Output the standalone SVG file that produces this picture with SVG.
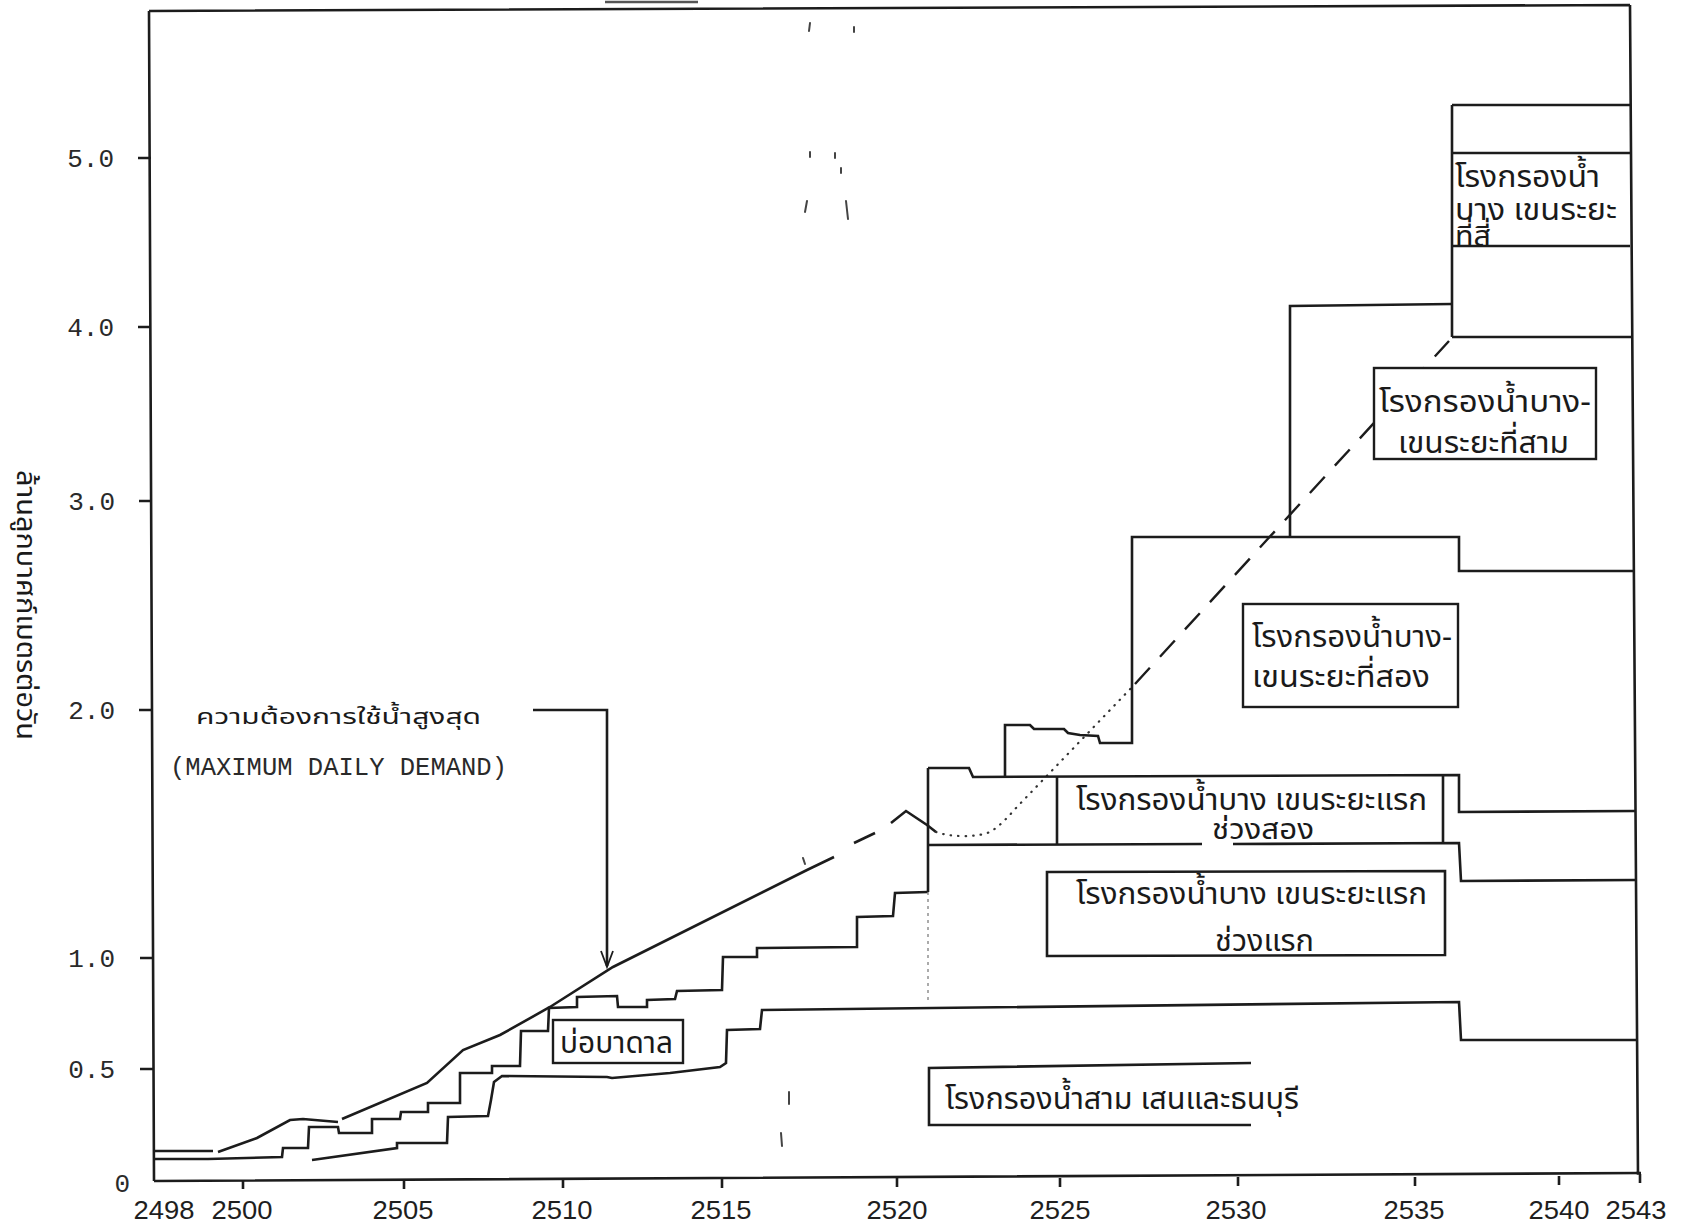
<svg xmlns="http://www.w3.org/2000/svg" width="1683" height="1227" viewBox="0 0 1683 1227">
<style>
.ln{fill:none;stroke:#1c1c1c;stroke-width:2.6;stroke-linejoin:miter}
.thin{fill:none;stroke:#1c1c1c;stroke-width:1.8}
.box{fill:#fff;stroke:#1c1c1c;stroke-width:2.4}
.dash{fill:none;stroke:#1c1c1c;stroke-width:2.4;stroke-dasharray:22 15}
.dot{fill:none;stroke:#333;stroke-width:2.2;stroke-dasharray:0.5 7;stroke-linecap:round}
.lite{fill:none;stroke:#888;stroke-width:1.4;stroke-dasharray:3 4}
.noise{fill:none;stroke:#444;stroke-width:2;stroke-linecap:round}
.th{font-family:"Noto Sans Thai","Noto Sans","DejaVu Sans",sans-serif;font-size:31px;fill:#1a1a1a}
.mono{font-family:"Liberation Mono",monospace;font-size:26px;fill:#2a2a2a}
.yr{font-family:"Liberation Sans",sans-serif;font-size:26px;fill:#1e1e1e;text-anchor:middle}
</style>
<rect width="1683" height="1227" fill="#fff"/>
<g id="frame">
<path class="ln" d="M149,11 L154,1181 M149,11 L1630,5 M1630,5 L1638,1175 M154,1181 L1641,1173"/>
<path class="ln" d="M138,158 H151 M138,327 H151 M139,501 H152 M139,710 H152 M140,958 H153 M140,1069 H153"/>
<path class="ln" d="M243,1180 v9 M404,1180 v9 M563,1179 v9 M722,1179 v9 M897,1178 v9 M1060,1178 v9 M1238,1177 v9 M1415,1177 v9 M1559,1176 v9 M1640,1174 v9"/>
<path fill="none" stroke="#555" stroke-width="2.4" d="M605,2 L698,2"/>
</g>
<g id="axis-labels">
<text class="mono" x="114" y="167" text-anchor="end">5.0</text>
<text class="mono" x="114" y="336" text-anchor="end">4.0</text>
<text class="mono" x="115" y="510" text-anchor="end">3.0</text>
<text class="mono" x="115" y="719" text-anchor="end">2.0</text>
<text class="mono" x="115" y="967" text-anchor="end">1.0</text>
<text class="mono" x="115" y="1078" text-anchor="end">0.5</text>
<text class="mono" x="130" y="1192" text-anchor="end">0</text>
<text class="yr" x="164" y="1219" textLength="61" lengthAdjust="spacingAndGlyphs">2498</text>
<text class="yr" x="242" y="1219" textLength="61" lengthAdjust="spacingAndGlyphs">2500</text>
<text class="yr" x="403" y="1219" textLength="61" lengthAdjust="spacingAndGlyphs">2505</text>
<text class="yr" x="562" y="1219" textLength="61" lengthAdjust="spacingAndGlyphs">2510</text>
<text class="yr" x="721" y="1219" textLength="61" lengthAdjust="spacingAndGlyphs">2515</text>
<text class="yr" x="897" y="1219" textLength="61" lengthAdjust="spacingAndGlyphs">2520</text>
<text class="yr" x="1060" y="1219" textLength="61" lengthAdjust="spacingAndGlyphs">2525</text>
<text class="yr" x="1236" y="1219" textLength="61" lengthAdjust="spacingAndGlyphs">2530</text>
<text class="yr" x="1414" y="1219" textLength="61" lengthAdjust="spacingAndGlyphs">2535</text>
<text class="yr" x="1559" y="1219" textLength="61" lengthAdjust="spacingAndGlyphs">2540</text>
<text class="yr" x="1636" y="1219" textLength="61" lengthAdjust="spacingAndGlyphs">2543</text>
<text class="th" style="font-size:26px" transform="translate(17,470) rotate(90)" textLength="270" lengthAdjust="spacingAndGlyphs">ล้านลูกบาศก์เมตรต่อวัน</text>
</g>
<g id="connectors">
<path class="ln" d="M155,1151 L213,1151"/>
<path class="ln" d="M218,1152 L257,1138 L290,1120 L303,1119 L338,1122"/>
<path class="ln" d="M342,1119 L427,1083 L463,1050 L500,1035 L550,1007 L613,967 L807,870 L834,857"/>
<path class="ln" d="M854,843 L875,833"/>
<path class="ln" d="M891,823 L906,811 L927,825 L936,832"/>
<path class="dot" d="M936,832 C950,837 975,838 990,832 C1000,826 1008,817 1016,808 L1135,684"/>
<path class="dash" d="M1135,684 L1449,341"/>
<path class="ln" d="M155,1159 L208,1159 L282,1157 L283,1148 L308,1148 L309,1127 L338,1127 L339,1133 L372,1133 L372,1119 L400,1119 L401,1112 L428,1112 L428,1103 L460,1103 L460,1073 L492,1073 L492,1066 L520,1066 L521,1031 L548,1031 L549,1008 L577,1007 L577,997 L617,996 L618,1007 L647,1007 L647,1000 L675,999 L677,991 L722,990 L723,957 L757,957 L757,948 L857,947 L857,917 L893,916 L895,893 L928,892"/>
<path class="ln" d="M312,1160 L397,1148 L397,1143 L447,1143 L448,1117 L488,1116 L491,1100 L494,1082 L502,1076 L607,1077 L612,1078 L670,1073 L720,1067 L726,1063 L727,1030 L760,1029 L762,1010 L1459,1002 L1461,1040 L1637,1040"/>
<path class="ln" d="M928,768 L928,892"/>
<path class="lite" d="M928,892 L928,1002"/>
<path class="ln" d="M928,768 L969,768 L973,777 L1459,775 L1459,812 L1635,811"/>
<path class="ln" d="M928,845 L1202,844 M1233,844 L1459,843 L1461,881 L1636,880"/>
<path class="ln" d="M1005,777 L1005,725 L1030,725 L1034,729 L1064,729 L1068,733 L1080,735 L1098,736 L1100,743 L1132,743 L1132,537 L1459,537 L1459,571 L1634,571"/>
<path class="ln" d="M1290,537 L1290,306 L1452,304"/>
<path class="ln" d="M1452,105 L1630,105 M1452,153 L1630,153 M1452,246 L1630,246 M1452,337 L1631,337 M1452,105 L1452,337"/>
<path class="ln" d="M533,710 L607,710 L607,966"/>
<path class="thin" d="M601,951 L607,967 L613,951"/>
</g>
<g id="scan-marks">
<path class="noise" d="M810,23 L809,31 M854,27 L854,32 M810,152 L810,157 M835,153 L835,158 M841,168 L841,173 M807,201 L805,212 M846,201 L848,219 M789,1092 L789,1104 M781,1133 L782,1146 M803,858 L805,864"/>
</g>
<g id="node-demand-label">
<text class="th" style="font-size:22px" x="196" y="724" textLength="285" lengthAdjust="spacingAndGlyphs">ความต้องการใช้น้ำสูงสุด</text>
<text class="mono" x="170" y="775" textLength="337" lengthAdjust="spacingAndGlyphs">(MAXIMUM DAILY DEMAND)</text>
</g>
<g id="node-well">
<rect class="box" x="553" y="1020" width="130" height="43"/>
<text class="th" x="560" y="1053" textLength="113" lengthAdjust="spacingAndGlyphs">บ่อบาดาล</text>
</g>
<g id="node-bangkhen-4">
<text class="th" x="1455" y="187" textLength="145" lengthAdjust="spacingAndGlyphs">โรงกรองน้ำ</text>
<text class="th" x="1455" y="220" textLength="162" lengthAdjust="spacingAndGlyphs">บาง เขนระยะ</text>
<text class="th" style="font-size:28px" x="1455" y="246" textLength="36" lengthAdjust="spacingAndGlyphs">ที่สี่</text>
</g>
<g id="node-bangkhen-3">
<rect class="box" x="1374" y="368" width="222" height="91"/>
<text class="th" x="1379" y="412" textLength="212" lengthAdjust="spacingAndGlyphs">โรงกรองน้ำบาง-</text>
<text class="th" x="1398" y="453" textLength="171" lengthAdjust="spacingAndGlyphs">เขนระยะที่สาม</text>
</g>
<g id="node-bangkhen-2">
<rect class="box" x="1243" y="604" width="215" height="103"/>
<text class="th" x="1252" y="647" textLength="200" lengthAdjust="spacingAndGlyphs">โรงกรองน้ำบาง-</text>
<text class="th" x="1252" y="687" textLength="178" lengthAdjust="spacingAndGlyphs">เขนระยะที่สอง</text>
</g>
<g id="node-bangkhen-1b">
<path class="ln" d="M1057,777 L1057,845 M1443,776 L1443,843"/>
<text class="th" x="1076" y="810" textLength="351" lengthAdjust="spacingAndGlyphs">โรงกรองน้ำบาง เขนระยะแรก</text>
<text class="th" style="font-size:28px" x="1212" y="839" textLength="102" lengthAdjust="spacingAndGlyphs">ช่วงสอง</text>
</g>
<g id="node-bangkhen-1a">
<path class="ln" d="M1047,872 L1445,871 L1445,955 L1047,956 Z"/>
<text class="th" x="1076" y="904" textLength="351" lengthAdjust="spacingAndGlyphs">โรงกรองน้ำบาง เขนระยะแรก</text>
<text class="th" x="1215" y="951" textLength="99" lengthAdjust="spacingAndGlyphs">ช่วงแรก</text>
</g>
<g id="node-samsen">
<path class="ln" d="M1251,1063 L929,1068 L929,1125 L1251,1125"/>
<text class="th" x="945" y="1109" textLength="354" lengthAdjust="spacingAndGlyphs">โรงกรองน้ำสาม เสนและธนบุรี</text>
</g>
</svg>
